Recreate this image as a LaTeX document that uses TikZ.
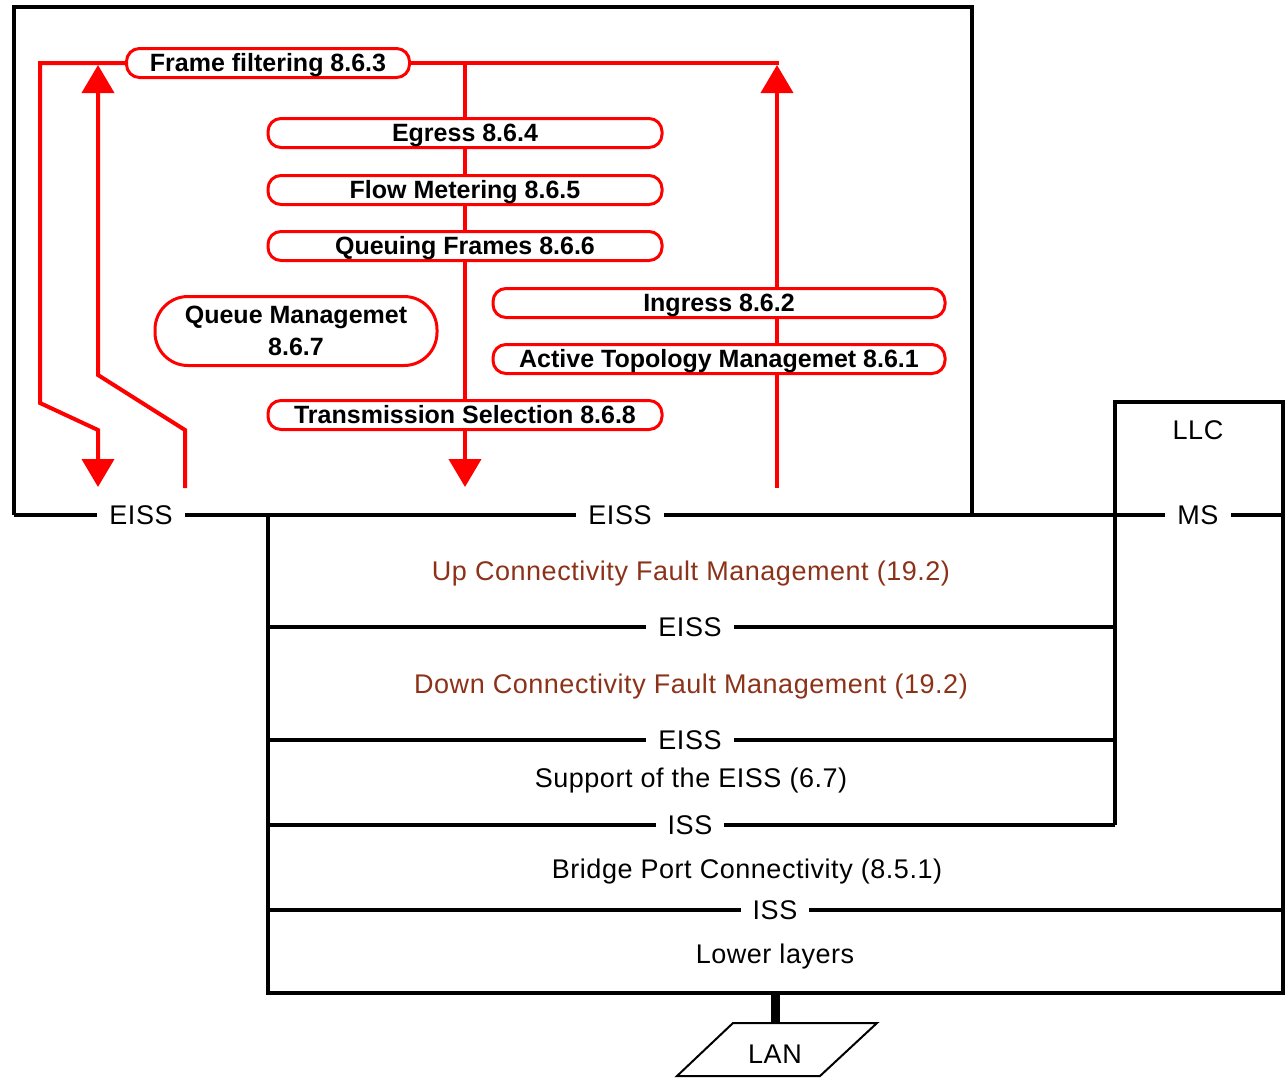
\documentclass[tikz,border=0pt]{standalone}
\usepackage{fontspec}
\setmainfont{Liberation Sans}
\newfontfamily\layerfont[LetterSpace=2.0]{Liberation Sans}
\usetikzlibrary{arrows.meta,backgrounds}
\definecolor{flowred}{RGB}{255,0,0}
\definecolor{cfmbrown}{RGB}{140,50,25}
\begin{document}
\begin{tikzpicture}[x=1pt,y=-1pt,
  pill/.style={draw=flowred, line width=3pt, fill=white, rounded corners=13pt,
    minimum height=29pt, inner sep=0pt, text height=17.9pt, text depth=0pt,
    font=\fontsize{25}{32}\selectfont\bfseries},
  redline/.style={draw=flowred, line width=4pt},
  redarrow/.style={redline, -{Triangle[width=32pt,length=28pt]}},
  layer/.style={draw=black, line width=4.5pt},
  lbl/.style={fill=white, inner xsep=12pt, inner ysep=0pt, text height=19.3pt,
    text depth=0pt, font=\layerfont\fontsize{27}{30}\selectfont},
  body/.style={inner sep=0pt, text height=19.3pt, text depth=0pt,
    font=\layerfont\fontsize{27}{30}\selectfont},
]
\useasboundingbox (0,0) rectangle (1285,1077);

% ---- forwarding process (red) ----
\node[pill, minimum width=283pt] (ff) at (268,63) {Frame filtering 8.6.3};
\node[pill, minimum width=394pt] (eg) at (465,133) {Egress 8.6.4};
\node[pill, minimum width=394pt] (fm) at (465,190) {Flow Metering 8.6.5};
\node[pill, minimum width=394pt] (qf) at (465,246) {Queuing Frames 8.6.6};
\node[pill, minimum width=282pt, minimum height=69pt, rounded corners=33pt,
  align=center, text height={}, text depth={}] (qm) at (296,331)
  {Queue Managemet\\8.6.7};
\node[pill, minimum width=452pt] (ig) at (719,303) {Ingress 8.6.2};
\node[pill, minimum width=452pt] (at) at (719,359) {Active Topology Managemet 8.6.1};
\node[pill, minimum width=394pt] (ts) at (465,415) {Transmission Selection 8.6.8};

\coordinate (leftTop) at (40,63);
\coordinate (leftBend) at (40,403);
\coordinate (leftKnee) at (98,430);
\coordinate (leftOut) at (98,487);
\coordinate (leftIn) at (185,488);
\coordinate (leftInBend) at (185,430);
\coordinate (leftInKnee) at (98,375);
\coordinate (leftInTip) at (98,65);
\coordinate (rightIn) at (777,488);
\coordinate (rightTip) at (777,65);
\coordinate (rightTop) at (779,63);
\coordinate (midOut) at (465,487);

\begin{scope}[on background layer]
  \draw[redarrow] (ff.west) -- (leftTop) -- (leftBend) -- (leftKnee) -- (leftOut);
  \draw[redarrow] (leftIn) -- (leftInBend) -- (leftInKnee) -- (leftInTip);
  \draw[redline] (ff.east) -- (rightTop);
  \draw[redarrow] (rightIn) -- (rightTip);
  \draw[redline] (eg.north |- ff.east) -- (eg) -- (fm) -- (qf) -- (ts);
  \draw[redarrow] (ts.south) -- (midOut);
\end{scope}

% ---- port layer stack (black) ----
\draw[layer] (14,515) -- (14,7) -- (972,7) -- (972,515);
\draw[layer] (14,515) -- (1283,515);
\draw[layer] (268,515) -- (268,993) -- (1283,993) -- (1283,402) -- (1115,402) -- (1115,825);
\draw[layer] (268,627) -- (1115,627);
\draw[layer] (268,740) -- (1115,740);
\draw[layer] (268,825) -- (1115,825);
\draw[layer] (268,910) -- (1283,910);

\node[lbl] (eissL) at (141,515) {EISS};
\node[lbl] (eissM) at (620,515) {EISS};
\node[lbl] (ms) at (1198,515) {MS};
\node[lbl] (eissA) at (690,627) {EISS};
\node[lbl] (eissB) at (690,740) {EISS};
\node[lbl] (issA) at (690,825) {ISS};
\node[lbl] (issB) at (775,910) {ISS};

\node[body] (llc) at (1198,430) {LLC};
\node[body, text=cfmbrown] (upcfm) at (691,571) {Up Connectivity Fault Management (19.2)};
\node[body, text=cfmbrown] (downcfm) at (691,684) {Down Connectivity Fault Management (19.2)};
\node[body] (seiss) at (691,778) {Support of the EISS (6.7)};
\node[body] (bpc) at (747,869) {Bridge Port Connectivity (8.5.1)};
\node[body] (lower) at (775,954) {Lower layers};

% ---- LAN ----
\coordinate (stackBottom) at (775,993);
\coordinate (lanTop) at (775,1023);
\draw[line width=2pt] (733,1023) -- (877,1023) -- (820,1076) -- (677,1076) -- cycle;
\node[body] (lan) at (775,1054) {LAN};
\draw[line width=9pt] (stackBottom) -- (lanTop);
\end{tikzpicture}
\end{document}
